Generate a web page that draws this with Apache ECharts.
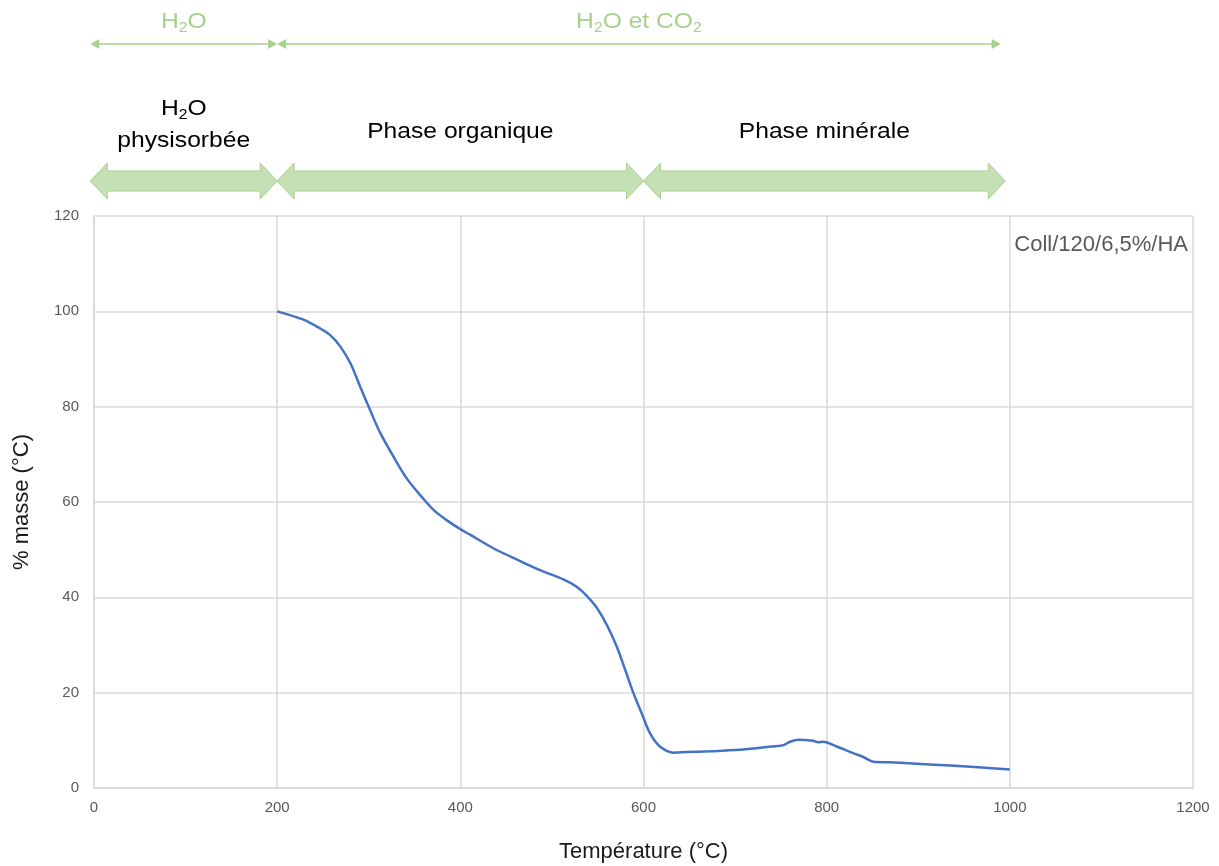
<!DOCTYPE html>
<html>
<head>
<meta charset="utf-8">
<script src="https://cdn.jsdelivr.net/npm/echarts@6/dist/echarts.min.js"></script>
<style>html,body{margin:0;padding:0;background:#fff;overflow:hidden}#c{width:1219px;height:866px}</style>
</head>
<body>
<div id="c"></div>
<script>
// ---- data ----
const seriesName = 'Coll/120/6,5%/HA';
const temperature = [200,228,247,258,269,280,290,301,312,327,342,360,371,385,400,411,436,462,487,512,527,538,549,560,571,580,589,598,607,618,633,647,673,705,735,753,760,769,785,791,796,811,829,840,851,869,880,917,953,1000];
const massPct     = [100,98.3,96.4,95.0,92.6,89.1,84.5,79.5,74.7,69.5,64.8,60.6,58.3,56.2,54.3,53.1,50.3,47.9,45.7,43.8,42.2,40.3,37.8,34.2,29.6,24.8,19.9,15.7,11.5,8.7,7.4,7.55,7.7,8.0,8.6,9.0,9.7,10.1,9.9,9.6,9.7,8.7,7.3,6.5,5.5,5.4,5.3,4.9,4.5,3.9];
const xTicks = [0,200,400,600,800,1000,1200];
const yTicks = [0,20,40,60,80,100,120];
// phase ranges (°C) and labels
const phaseStart = [-4,200,600];
const phaseEnd   = [200,600,995];
const phaseLabels = ['{t|H}{s|2}{t|O}\n{t|physisorbée}', '{t|Phase organique}', '{t|Phase minérale}'];
const gasStart = [-4,200];
const gasEnd   = [200,990];
const gasLabels = ['{g|H}{gs|2}{g|O}', '{g|H}{gs|2}{g|O et CO}{gs|2}'];

const lineData = temperature.map((t,i)=>[t,massPct[i]]);
const phaseData = phaseStart.map((s,i)=>[s,phaseEnd[i],i]);
const gasData = gasStart.map((s,i)=>[s,gasEnd[i],i]);

const FONT = '"Liberation Sans", Arial, sans-serif';
const GREEN = '#a9d18e', FILL = '#c5e0b4';
const richBlack = {
  t:{fontSize:22,fill:'#000',fontFamily:FONT,lineHeight:32},
  s:{fontSize:14,fill:'#000',fontFamily:FONT,lineHeight:32,verticalAlign:'bottom',padding:[0,0,3,0]}
};
const richGreen = {
  g:{fontSize:22,fill:GREEN,fontFamily:FONT,lineHeight:28},
  gs:{fontSize:14,fill:GREEN,fontFamily:FONT,lineHeight:28,verticalAlign:'bottom',padding:[0,0,1,0]}
};

const chart = echarts.init(document.getElementById('c'));
chart.setOption({
  backgroundColor:'#fff',
  animation:false,
  grid:{left:94,right:26,top:216,bottom:78,containLabel:false,outerBoundsMode:'none'},
  legend:{
    data:[{name:seriesName,icon:'none'}],
    right:26, top:229, itemWidth:0, itemHeight:0, itemGap:0,
    textStyle:{fontSize:22,color:'#595959',fontFamily:FONT}
  },
  xAxis:{
    type:'value', min:xTicks[0], max:xTicks[xTicks.length-1], interval:200,
    name:'Température (°C)', nameLocation:'middle', nameGap:53,
    nameTextStyle:{fontSize:22,color:'#1a1a1a',fontFamily:FONT},
    axisLine:{show:true,lineStyle:{color:'#d9d9d9',width:1.5}},
    axisTick:{show:false},
    axisLabel:{color:'#595959',fontSize:15,margin:12,fontFamily:FONT,formatter:v=>String(v)},
    splitLine:{show:true,lineStyle:{color:'#d9d9d9',width:1.5}}
  },
  yAxis:{
    type:'value', min:yTicks[0], max:yTicks[yTicks.length-1], interval:20,
    name:'% masse (°C)', nameLocation:'middle', nameGap:61,
    nameTextStyle:{fontSize:22,color:'#1a1a1a',fontFamily:FONT},
    axisLine:{show:true,lineStyle:{color:'#d9d9d9',width:1.5}},
    axisTick:{show:false},
    axisLabel:{color:'#595959',fontSize:15,margin:15,fontFamily:FONT,formatter:v=>String(v)},
    splitLine:{show:true,lineStyle:{color:'#d9d9d9',width:1.5}}
  },
  series:[
    {
      name:seriesName, type:'line', data:lineData, showSymbol:false, symbol:'none',
      smooth:0.3, lineStyle:{color:'#4472c4',width:2.5}, itemStyle:{color:'#4472c4'}, z:5
    },
    {
      name:'phases', type:'custom', data:phaseData, clip:false, silent:true,
      renderItem:function(params,api){
        const x0 = api.coord([api.value(0),0])[0];
        const x1 = api.coord([api.value(1),0])[0];
        const idx = api.value(2);
        const yc = 181, hh = 18, sh = 10, hl = 17;
        const pts = [[x0,yc],[x0+hl,yc-hh],[x0+hl,yc-sh],[x1-hl,yc-sh],[x1-hl,yc-hh],[x1,yc],[x1-hl,yc+hh],[x1-hl,yc+sh],[x0+hl,yc+sh],[x0+hl,yc+hh]];
        return {type:'group',children:[
          {type:'polygon',shape:{points:pts},style:{fill:FILL,stroke:GREEN,lineWidth:1}},
          {type:'text',x:(x0+x1)/2,y:idx===0?125:132,scaleX:1.12,
           style:{text:phaseLabels[idx],rich:richBlack,align:'center',verticalAlign:'middle'}}
        ]};
      }
    },
    {
      name:'gases', type:'custom', data:gasData, clip:false, silent:true,
      renderItem:function(params,api){
        const x0 = api.coord([api.value(0),0])[0];
        const x1 = api.coord([api.value(1),0])[0];
        const idx = api.value(2);
        const y = 44, al = 9, ah = 5;
        return {type:'group',children:[
          {type:'line',shape:{x1:x0+al-1,y1:y,x2:x1-al+1,y2:y},style:{stroke:GREEN,lineWidth:1.5}},
          {type:'polygon',shape:{points:[[x0,y],[x0+al,y-ah],[x0+al,y+ah]]},style:{fill:GREEN}},
          {type:'polygon',shape:{points:[[x1,y],[x1-al,y-ah],[x1-al,y+ah]]},style:{fill:GREEN}},
          {type:'text',x:(x0+x1)/2,y:22,scaleX:1.12,
           style:{text:gasLabels[idx],rich:richGreen,align:'center',verticalAlign:'middle'}}
        ]};
      }
    }
  ]
});
</script>
</body>
</html>
